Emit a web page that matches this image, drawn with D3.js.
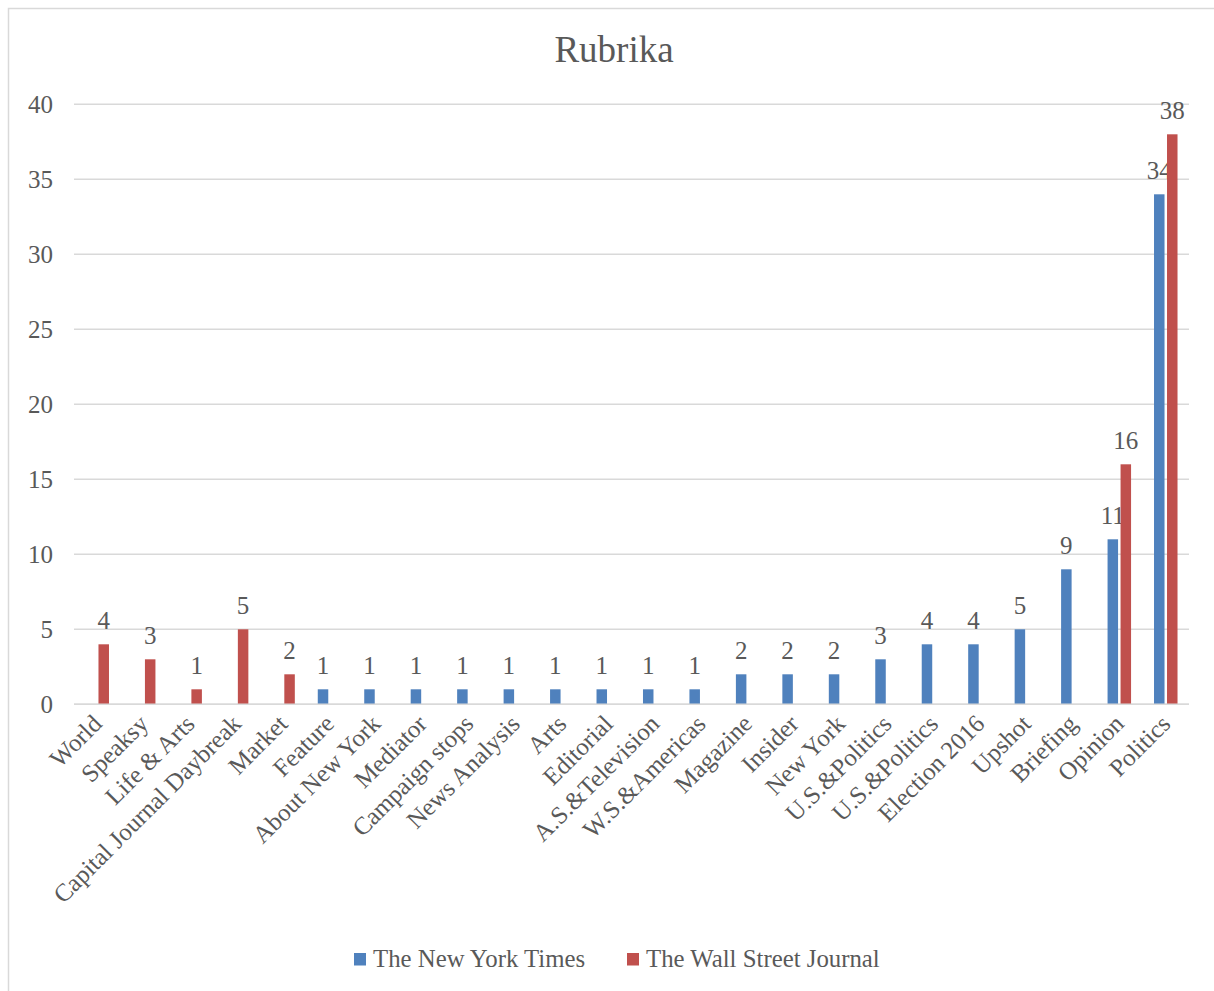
<!DOCTYPE html>
<html>
<head>
<meta charset="utf-8">
<script src="https://cdn.jsdelivr.net/npm/d3@7"></script>
<style>
  html, body { margin: 0; padding: 0; background: #fff; }
  svg { display: block; }
  text { font-family: "Liberation Serif", "Times New Roman", serif; fill: #595959; }
</style>
</head>
<body>
<svg id="chart" width="1214" height="991"></svg>
<script>
const categories = ["World","Speaksy","Life & Arts","Capital Journal Daybreak","Market","Feature","About New York","Mediator","Campaign stops","News Analysis","Arts","Editorial","A.S.&Television","W.S.&Americas","Magazine","Insider","New York","U.S.&Politics","U.S.&Politics","Election 2016","Upshot","Briefing","Opinion","Politics"];
const nytValues = [null,null,null,null,null,1,1,1,1,1,1,1,1,1,2,2,2,3,4,4,5,9,11,34];
const wsjValues = [4,3,1,5,2,null,null,null,null,null,null,null,null,null,null,null,null,null,null,null,null,null,16,38];
const seriesNames = ["The New York Times","The Wall Street Journal"];
const seriesColors = ["#4F81BD","#C0504D"];
const yTicks = [0,5,10,15,20,25,30,35,40];
const title = "Rubrika";

const svg = d3.select("#chart");
const W = 1214, H = 991;

// chart border
svg.append("rect").attr("x", 8.5).attr("y", 8.5).attr("width", W + 10).attr("height", H + 10)
  .attr("fill", "none").attr("stroke", "#D9D9D9").attr("stroke-width", 1.5);

const plot = {left: 74, right: 1189, top: 104.3, bottom: 704.3};

const x = d3.scaleBand().domain(d3.range(categories.length)).range([plot.left, plot.right]).padding(0);
const y = d3.scaleLinear().domain([0, 40]).range([plot.bottom, plot.top]);

// title
svg.append("text").attr("x", 614).attr("y", 62).attr("text-anchor", "middle")
  .style("font-size", "37px").text(title);

// gridlines
svg.append("g").selectAll("line").data(yTicks).join("line")
  .attr("x1", plot.left).attr("x2", plot.right)
  .attr("y1", d => y(d)).attr("y2", d => y(d))
  .attr("stroke", "#D9D9D9").attr("stroke-width", 1.5);

// y axis labels
const yAxis = d3.axisLeft(y).tickValues(yTicks).tickSize(0).tickPadding(0);
const gy = svg.append("g").attr("transform", `translate(53,0)`).call(yAxis);
gy.select(".domain").remove();
gy.selectAll("text").style("font-size", "25px").attr("fill", "#595959")
  .style("font-family", "'Liberation Serif', serif").attr("dy", "0.34em");

// bars
const barW = 10.5, gap = 1.25;
const series = [nytValues, wsjValues];
series.forEach((vals, si) => {
  const off = si === 0 ? -gap - barW : gap;
  const data = vals.map((v, i) => ({i, v})).filter(d => d.v != null);
  svg.append("g").selectAll("rect").data(data).join("rect")
    .attr("x", d => x(d.i) + x.bandwidth() / 2 + off)
    .attr("y", d => y(d.v))
    .attr("width", barW)
    .attr("height", d => y(0) - y(d.v))
    .attr("fill", seriesColors[si]);
  svg.append("g").selectAll("text").data(data).join("text")
    .attr("x", d => x(d.i) + x.bandwidth() / 2 + off + barW / 2)
    .attr("y", d => y(d.v) - 15)
    .attr("text-anchor", "middle")
    .style("font-size", "25px")
    .text(d => d.v);
});

// x axis line
svg.append("line").attr("x1", plot.left).attr("x2", plot.right)
  .attr("y1", y(0)).attr("y2", y(0)).attr("stroke", "#D9D9D9").attr("stroke-width", 1.5);

// category labels
svg.append("g").selectAll("text").data(categories).join("text")
  .attr("transform", (d, i) => `translate(${x(i) + x.bandwidth() / 2 + 6},${plot.bottom + 21}) rotate(-45)`)
  .attr("text-anchor", "end")
  .style("font-size", "24.8px")
  .text(d => d);

// legend
const legend = [{x: 354, tx: 373}, {x: 627, tx: 646}];
legend.forEach((l, i) => {
  svg.append("rect").attr("x", l.x).attr("y", 953).attr("width", 12).attr("height", 12.5)
    .attr("fill", seriesColors[i]);
  svg.append("text").attr("x", l.tx).attr("y", 967).style("font-size", "24.8px").text(seriesNames[i]);
});
</script>
</body>
</html>
